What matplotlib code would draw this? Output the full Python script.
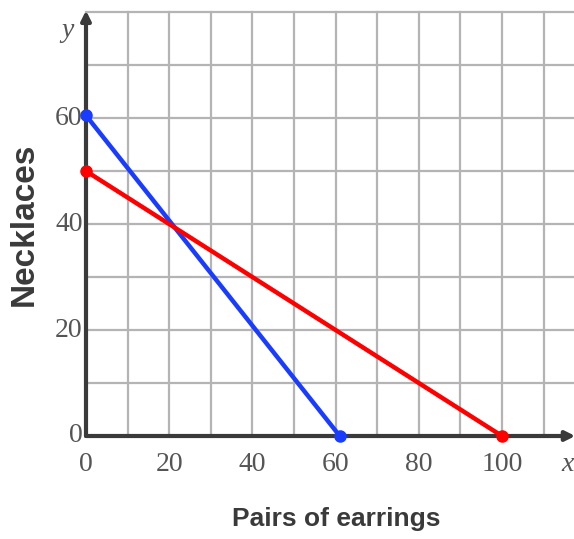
import matplotlib.pyplot as plt
import numpy as np

# data
blue_x = [0, 61]
blue_y = [60.5, 0]
red_x = [0, 100]
red_y = [50, 0]
xticks = [0, 20, 40, 60, 80, 100]
yticks = [0, 20, 40, 60]

serif = ['Liberation Serif', 'DejaVu Serif']
sans = ['Liberation Sans', 'DejaVu Sans']

fig = plt.figure(figsize=(5.74, 5.39), dpi=100)
ax = fig.add_axes([86/574, 103/539, 488/574, 426/539])
ax.set_xlim(0, 117.3)
ax.set_ylim(0, 80.4)

# grid every 10
for gx in np.arange(10, 120, 10):
    ax.plot([gx, gx], [0, 80], color='#b4b4b4', lw=1.6, zorder=1, clip_on=False)
for gy in np.arange(10, 90, 10):
    ax.plot([0, 117.3], [gy, gy], color='#b4b4b4', lw=1.6, zorder=1, clip_on=False)

for s in ax.spines.values():
    s.set_visible(False)
ax.set_xticks([])
ax.set_yticks([])

# axes with arrows
ax.annotate('', xy=(117.6, 0), xytext=(0, 0), xycoords='data',
            arrowprops=dict(arrowstyle='-|>', color='#3a3a3a', lw=3,
                            mutation_scale=14, shrinkA=0, shrinkB=0),
            annotation_clip=False, zorder=3)
ax.annotate('', xy=(0, 80.3), xytext=(0, 0), xycoords='data',
            arrowprops=dict(arrowstyle='-|>', color='#3a3a3a', lw=3,
                            mutation_scale=14, shrinkA=0, shrinkB=0),
            annotation_clip=False, zorder=3)

ax.plot(blue_x, blue_y, color='#1a3cff', lw=3.2, zorder=4, clip_on=False)
ax.plot(red_x, red_y, color='#ff0000', lw=3.2, zorder=5, clip_on=False)
ax.plot(blue_x, blue_y, 'o', color='#1a3cff', ms=8, zorder=6, clip_on=False)
ax.plot(red_x, red_y, 'o', color='#ff0000', ms=8, zorder=6, clip_on=False)

for t in xticks:
    ax.text(t, -3.0, str(t), ha='center', va='top', family=serif,
            fontsize=20, color='#555555')
for t in yticks:
    ax.text(-0.8, t, str(t), ha='right', va='center', family=serif,
            fontsize=20, color='#555555')

ax.text(-4.5, 76.5, 'y', ha='center', va='center', family=serif,
        fontsize=20, style='italic', color='#555555')
ax.text(117.3, -3.0, 'x', ha='right', va='top', family=serif,
        fontsize=20, style='italic', color='#555555', clip_on=False)

fig.text(24/574, 1 - 224/539, 'Necklaces', rotation=90, ha='center',
         va='center', family=sans, fontsize=24, fontweight='bold',
         color='#3a3a3a')
fig.text(336/574, 1 - 519/539, 'Pairs of earrings', ha='center',
         va='center', family=sans, fontsize=19, fontweight='bold',
         color='#3a3a3a')

fig.savefig('out.png', dpi=100)
